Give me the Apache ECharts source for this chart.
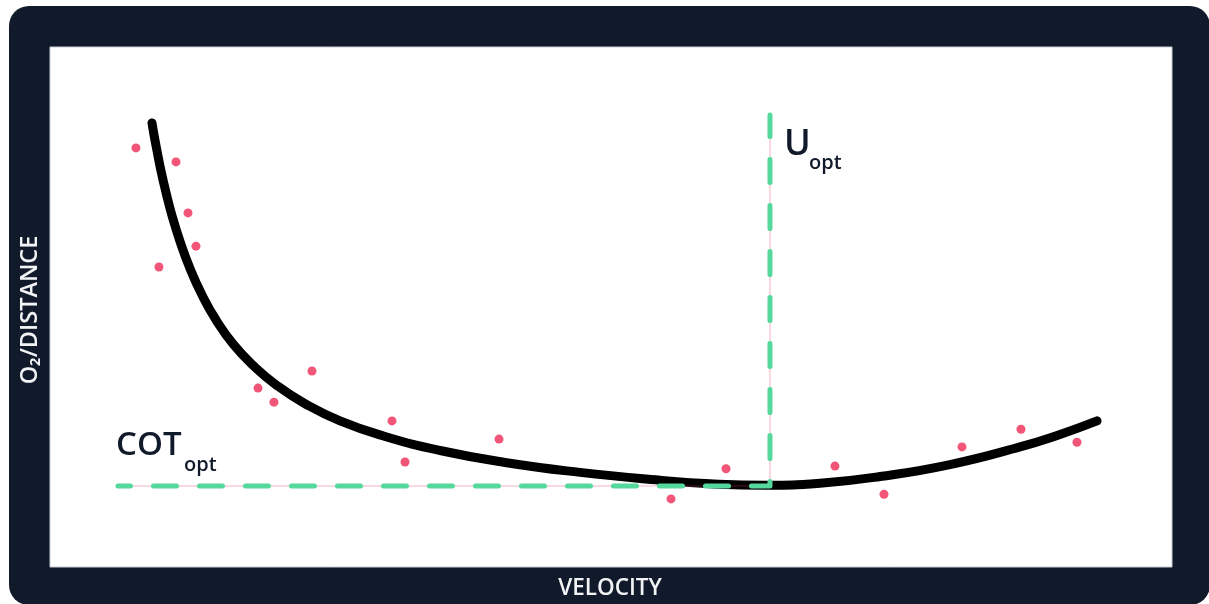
<!DOCTYPE html>
<html>
<head>
<meta charset="utf-8">
<title>Cost of transport vs velocity</title>
<script src="https://cdn.jsdelivr.net/npm/echarts@6/dist/echarts.min.js"></script>
<style>
  html, body { margin: 0; padding: 0; background: #ffffff; }
  #chart { width: 1209px; height: 604px; }
</style>
</head>
<body>
<div id="chart"></div>
<script>
// Fitted cost-of-transport curve (velocity, O2 per distance), arbitrary units 0-100
const curveVelocity = [9.09, 9.27, 9.54, 9.89, 10.34, 10.87, 11.59, 12.48, 13.55, 14.80, 16.31,
  18.09, 20.23, 22.73, 25.85, 29.86, 34.76, 40.55, 47.24, 54.37, 58.82, 63.73, 68.63,
  73.98, 80.21, 86.45, 90.02, 93.32];
const curveCost = [85.4, 83.1, 80.0, 76.2, 72.0, 67.6, 62.6, 57.4, 52.3, 47.5, 42.9,
  38.8, 34.9, 31.4, 28.1, 25.1, 22.4, 20.1, 18.2, 16.7, 16.0, 15.7, 16.1,
  17.4, 19.7, 23.1, 25.5, 28.1];

// Measured points
const obsVelocity = [7.66, 11.23, 12.30, 13.01, 9.71, 18.54, 19.96, 23.35, 30.48, 31.64,
  40.02, 55.35, 60.25, 69.96, 74.33, 81.28, 86.54, 91.53];
const obsCost = [80.6, 77.9, 68.1, 61.7, 57.7, 34.4, 31.7, 37.7, 28.1, 20.2,
  24.6, 13.1, 18.9, 19.4, 14.0, 23.1, 26.5, 24.0];

// Optimum: speed at minimum cost, and that minimum cost
const uOpt = 64.17;
const cotOpt = 15.58;
const guideStartVelocity = 6.06;
const guideTopCost = 86.9;

const curveData = curveVelocity.map((v, i) => [v, curveCost[i]]);
const obsData = obsVelocity.map((v, i) => [v, obsCost[i]]);
const guideData = [[guideStartVelocity, cotOpt], [uOpt, cotOpt], [uOpt, guideTopCost]];

const navy = '#111a2b';
const labelFont = '"Open Sans", "Noto Sans", sans-serif';

const chart = echarts.init(document.getElementById('chart'), null, { renderer: 'canvas' });

chart.setOption({
  animation: false,
  backgroundColor: '#ffffff',
  grid: { left: 50, top: 47, width: 1122, height: 520 },
  xAxis: { type: 'value', min: 0, max: 100, show: false },
  yAxis: { type: 'value', min: 0, max: 100, show: false },
  graphic: [
    { type: 'rect', z: -10, shape: { x: 9, y: 6, width: 1201, height: 599, r: 20 },
      style: { fill: navy } },
    { type: 'rect', z: -9, shape: { x: 50, y: 47, width: 1122, height: 520 },
      style: { fill: '#ffffff', stroke: '#c9ccd2', lineWidth: 1 } },
    { type: 'text', z: 10, x: 610, y: 589,
      style: { text: 'VELOCITY', fill: '#f2f3f5', font: '600 22.5px ' + labelFont,
        align: 'center', verticalAlign: 'middle' } },
    { type: 'text', z: 10, x: 30, y: 310, rotation: Math.PI / 2,
      style: { text: 'O₂/DISTANCE', fill: '#f2f3f5', font: '600 23.5px ' + labelFont,
        align: 'center', verticalAlign: 'middle' } },
    { type: 'text', z: 10, x: 784, y: 145,
      style: { text: 'U', fill: navy, font: '600 36px ' + labelFont,
        align: 'left', verticalAlign: 'middle' } },
    { type: 'text', z: 10, x: 809, y: 163,
      style: { text: 'opt', fill: navy, font: '600 20px ' + labelFont,
        align: 'left', verticalAlign: 'middle' } },
    { type: 'text', z: 10, x: 116, y: 446,
      style: { text: 'COT', fill: navy, font: '600 33px ' + labelFont,
        align: 'left', verticalAlign: 'middle' } },
    { type: 'text', z: 10, x: 184, y: 465,
      style: { text: 'opt', fill: navy, font: '600 20px ' + labelFont,
        align: 'left', verticalAlign: 'middle' } }
  ],
  series: [
    {
      name: 'fit', type: 'line', z: 2, data: curveData, smooth: 0.5,
      showSymbol: false, silent: true,
      lineStyle: { color: '#000000', width: 9, cap: 'round', join: 'round' }
    },
    {
      name: 'guide-thin', type: 'line', z: 3, data: guideData,
      showSymbol: false, silent: true,
      lineStyle: { color: 'rgba(230, 50, 90, 0.25)', width: 1.5 }
    },
    {
      name: 'guide', type: 'line', z: 4, data: guideData,
      showSymbol: false, silent: true,
      lineStyle: { color: '#55d89b', width: 5, type: [23, 23], dashOffset: 10.5,
        cap: 'round', join: 'round' }
    },
    {
      name: 'observed', type: 'scatter', z: 5, data: obsData,
      symbol: 'circle', symbolSize: 9, silent: true,
      itemStyle: { color: '#ee2a55' }
    }
  ]
});
</script>
</body>
</html>
